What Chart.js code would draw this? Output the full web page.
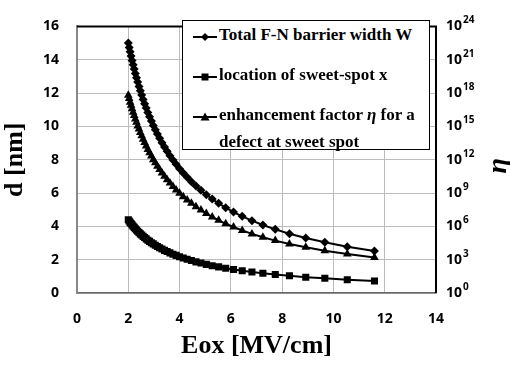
<!DOCTYPE html>
<html>
<head>
<meta charset="utf-8">
<script src="https://cdn.jsdelivr.net/npm/chart.js@4.4.0/dist/chart.umd.min.js"></script>
<style>
  html, body { margin: 0; padding: 0; background: #fff; }
  #wrap { position: relative; width: 510px; height: 366px; }
  #legend {
    position: absolute; left: 182px; top: 20px; width: 248px; height: 130px;
    box-sizing: border-box; border: 1px solid #000; background: #fff;
    font-family: "Liberation Serif", "Times New Roman", serif;
    font-weight: bold; font-size: 17px; color: #000;
  }
  #legend .item { position: absolute; left: 10px; display: flex; align-items: flex-start; line-height: 27px; white-space: nowrap; }
  #legend svg { flex: none; margin-top: 7px; margin-right: 2px; }
</style>
</head>
<body>
<div id="wrap">
  <canvas id="chart" width="510" height="366"></canvas>
  <div id="legend"></div>
</div>
<script>
// ---- data ----
const eox = [
  2.00, 2.035, 2.071, 2.109, 2.148, 2.189, 2.231, 2.274, 2.320, 2.367,
  2.417, 2.468, 2.522, 2.578, 2.636, 2.698, 2.762, 2.829, 2.900, 2.974,
  3.053, 3.135, 3.222, 3.314, 3.412, 3.515, 3.625, 3.742, 3.866, 4.000,
  4.143, 4.296, 4.461, 4.640, 4.833, 5.043, 5.272, 5.523, 5.799, 6.104,
  6.443, 6.822, 7.249, 7.732, 8.284, 8.921, 9.664, 10.54, 11.60
];
const barrierW = [
  15.00, 14.74, 14.48, 14.22, 13.96, 13.70, 13.44, 13.18, 12.92, 12.66,
  12.40, 12.14, 11.88, 11.62, 11.36, 11.10, 10.84, 10.58, 10.32, 10.06,
  9.80, 9.54, 9.28, 9.02, 8.76, 8.50, 8.24, 7.98, 7.72, 7.46,
  7.20, 6.94, 6.68, 6.42, 6.16, 5.90, 5.64, 5.38, 5.12, 4.86,
  4.60, 4.34, 4.08, 3.82, 3.56, 3.30, 3.04, 2.78, 2.52
];
const sweetX = [
  4.40, 4.32, 4.24, 4.17, 4.09, 4.01, 3.94, 3.86, 3.78, 3.71,
  3.63, 3.55, 3.48, 3.40, 3.33, 3.25, 3.17, 3.10, 3.02, 2.95,
  2.87, 2.79, 2.72, 2.64, 2.56, 2.49, 2.41, 2.33, 2.26, 2.18,
  2.10, 2.03, 1.95, 1.87, 1.80, 1.72, 1.64, 1.57, 1.49, 1.41,
  1.34, 1.26, 1.18, 1.11, 1.03, 0.95, 0.88, 0.80, 0.72
];
const eta = [
  6.3e17, 3.2e17, 1.5e17, 7.8e16, 3.8e16, 1.9e16, 9.3e15, 4.7e15, 2.3e15, 1.1e15,
  5.8e14, 2.8e14, 1.4e14, 7.1e13, 3.5e13, 1.7e13, 8.5e12, 4.3e12, 2.1e12, 1.0e12,
  5.2e11, 2.6e11, 1.3e11, 6.3e10, 3.2e10, 1.6e10, 7.8e9, 3.9e9, 1.9e9, 9.5e8,
  4.7e8, 2.3e8, 1.2e8, 5.8e7, 2.9e7, 1.4e7, 7.1e6, 3.5e6, 1.7e6, 8.7e5,
  4.3e5, 2.1e5, 1.05e5, 5.2e4, 2.6e4, 1.3e4, 6.5e3, 3.2e3, 1.6e3
];
const etaTicks = [1, 1e3, 1e6, 1e9, 1e12, 1e15, 1e18, 1e21, 1e24];
const seriesNames = [
  'Total F-N barrier width W',
  'location of sweet-spot x',
  'enhancement factor \u03b7 for a|defect at sweet spot'
];

const GRID = '#bcbcbc';
const TICK_FONT = { family: '"Open Sans"', size: 14, weight: 'bold' };
const TITLE_FONT = { family: '"Liberation Serif"', size: 26, weight: 'bold' };

const pts = ys => eox.map((x, i) => ({ x, y: ys[i] }));

function series(label, data, style, radius, axis) {
  return {
    label, data, yAxisID: axis,
    borderColor: '#000', backgroundColor: '#000', borderWidth: 2,
    pointStyle: style, pointRadius: radius, pointBorderWidth: 0,
    pointBackgroundColor: '#000', showLine: true, tension: 0,
  };
}

// plot frame (top/right in black), the 10^n labels and the eta title of the right axis
const framePlugin = {
  id: 'frame',
  afterDraw(chart) {
    const { ctx, chartArea: a } = chart;
    ctx.save();
    ctx.strokeStyle = '#000';
    ctx.lineWidth = 2;
    ctx.beginPath();
    ctx.moveTo(a.left, a.top);
    ctx.lineTo(a.right, a.top);
    ctx.lineTo(a.right, a.bottom);
    ctx.stroke();

    const s = chart.scales.y2;
    ctx.fillStyle = '#000';
    ctx.textAlign = 'left';
    ctx.textBaseline = 'middle';
    etaTicks.forEach(v => {
      const y = s.getPixelForValue(v);
      ctx.font = 'bold 14px "Open Sans"';
      ctx.fillText('10', a.right + 10, y);
      const w = ctx.measureText('10').width;
      ctx.font = 'bold 10px "Open Sans"';
      ctx.fillText(String(Math.round(Math.log10(v))), a.right + 11 + w, y - 6);
    });

    ctx.translate(499, (a.top + a.bottom) / 2 + 6);
    ctx.rotate(-Math.PI / 2);
    ctx.textAlign = 'center';
    ctx.font = 'italic bold 28px "Liberation Serif"';
    ctx.fillText('\u03b7', 0, 0);
    ctx.restore();
  }
};

new Chart(document.getElementById('chart'), {
  type: 'scatter',
  data: {
    datasets: [
      series(seriesNames[0], pts(barrierW), 'rectRot', 4.5, 'y'),
      series(seriesNames[1], pts(sweetX), 'rect', 5, 'y'),
      series(seriesNames[2], pts(eta), 'triangle', 5, 'y2'),
    ],
  },
  options: {
    responsive: false,
    animation: false,
    devicePixelRatio: 1,
    layout: { padding: { top: 15, left: 0, right: 0, bottom: 0 } },
    plugins: { legend: { display: false }, tooltip: { enabled: false } },
    scales: {
      x: {
        type: 'linear', min: 0, max: 14,
        ticks: { stepSize: 2, color: '#000', font: TICK_FONT, padding: 18 },
        grid: { color: GRID, drawTicks: false },
        border: { color: '#666', width: 1.5 },
        title: { display: true, text: 'Eox [MV/cm]', color: '#000', font: TITLE_FONT, padding: { top: 0, bottom: 4 } },
        afterFit: s => { s.height = 73; },
      },
      y: {
        type: 'linear', min: 0, max: 16,
        ticks: { stepSize: 2, color: '#000', font: TICK_FONT, padding: 18 },
        grid: { color: GRID, drawTicks: false },
        border: { color: '#888', width: 2 },
        title: { display: true, text: 'd [nm]', color: '#000', font: TITLE_FONT, padding: { top: 0, bottom: 7 } },
        afterFit: s => { s.width = 77; },
      },
      y2: {
        type: 'logarithmic', position: 'right', min: 1, max: 1e24,
        afterBuildTicks: s => { s.ticks = etaTicks.map(v => ({ value: v })); },
        ticks: { display: false },
        grid: { drawOnChartArea: false, drawTicks: false },
        border: { display: false },
        afterFit: s => { s.width = 74; },
      },
    },
  },
  plugins: [framePlugin],
});

// legend box drawn as HTML inside the plot
const markers = [
  '<path d="M7 5 L11 9 L7 13 L3 9 Z"/>',
  '<rect x="3.5" y="5.5" width="7" height="7"/>',
  '<path d="M7 4.5 L11.5 12.5 L2.5 12.5 Z"/>',
];
const rowTops = [0, 40, 80];
const legend = document.getElementById('legend');
seriesNames.forEach((name, i) => {
  const item = document.createElement('div');
  item.className = 'item';
  item.style.top = rowTops[i] + 'px';
  item.innerHTML =
    '<svg width="24" height="14" viewBox="-5 0 24 14"><line x1="-5" y1="9" x2="19" y2="9" stroke="#000" stroke-width="2"/>' +
    markers[i] + '</svg><div>' + name.replace('|', '<br>').replace('\u03b7', '<i>\u03b7</i>') + '</div>';
  legend.appendChild(item);
});
</script>
</body>
</html>
